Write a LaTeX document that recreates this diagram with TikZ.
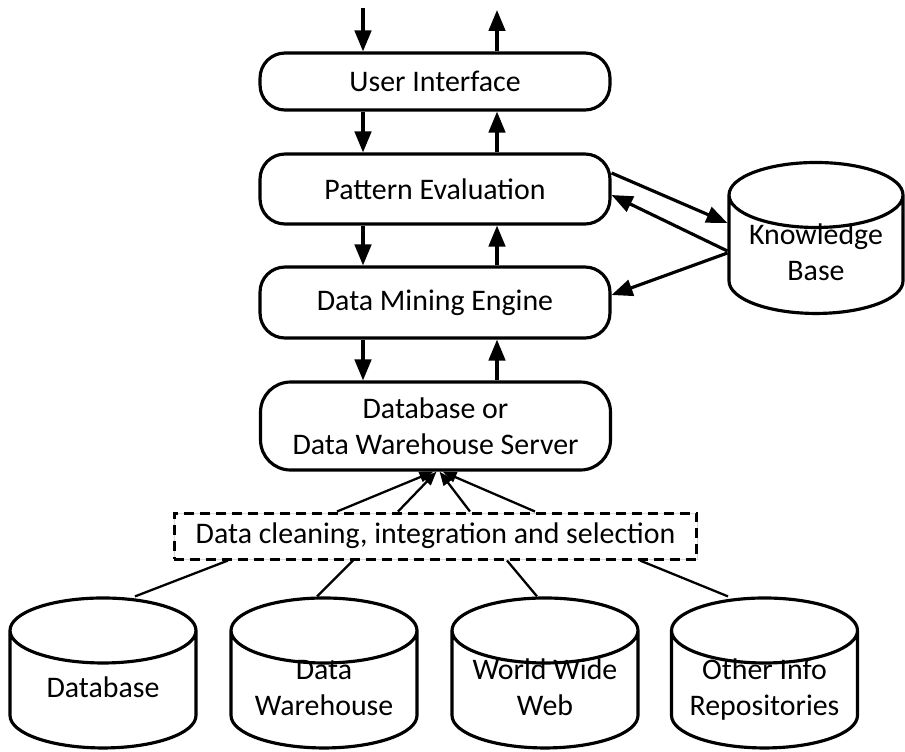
\documentclass[tikz,border=0pt]{standalone}
\usepackage{fontspec}
\setmainfont{Carlito}
\usetikzlibrary{arrows.meta, positioning, shapes.geometric}
\newcommand{\storetext}[1]{\makebox[2.6cm]{\begin{tabular}{@{}c@{}}#1\end{tabular}}}
\tikzset{
  box/.style={draw, line width=1.8pt, rounded corners=0.5cm, minimum width=7cm, inner sep=0pt, align=center},
  store/.style={draw, line width=1.8pt, cylinder, shape border rotate=90, aspect=0.5, minimum width=3.72cm, minimum height=3cm, inner sep=0pt, text height=8.65pt, text depth=-6.65pt},
  flow/.style={line width=1.8pt, -{Triangle[length=4.2mm,width=3.3mm]}},
  feed/.style={line width=1.3pt, -{Triangle[length=2.8mm,width=2.1mm]}},
  link/.style={line width=1.3pt},
}

\begin{document}
\begin{tikzpicture}[x=0.02cm, y=-0.02cm, font=\fontsize{17}{20.5}\selectfont]
\useasboundingbox (0,0) rectangle (905,751);
\node[box, minimum height=1.14cm] (ui)  at (435,81.5) {User Interface};
\node[box, minimum height=1.4cm]  (pe)  at (435,189)  {Pattern Evaluation};
\node[box, minimum height=1.42cm] (dme) at (435,302.5) {Data Mining Engine};
\node[box, minimum height=1.76cm, rounded corners=0.6cm] (srv) at (435.5,426) {Database or\\Data Warehouse Server};
\node[store, minimum width=3.48cm, minimum height=3.02cm] (kb) at (816,255) {\storetext{Knowledge\\Base}};
\node[draw, dashed, line width=1.7pt, dash pattern=on 0.2cm off 0.12cm,
  preaction={draw=gray!30, line width=0.4pt, solid},
  minimum width=10.46cm, minimum height=0.92cm, inner sep=0pt] (clean) at (435.5,536)
  {Data cleaning, integration and selection};
\foreach \n/\x/\t in {db/103/Database, dw/324/{Data\\Warehouse}, www/545/{World Wide\\Web}, oth/764.5/{Other Info\\Repositories}}
  \node[store] (\n) at (\x,690) {\storetext{\t}};

\coordinate (in)  at (363,8);
\coordinate (out) at (497,10);
\draw[flow] (in) -- (in |- ui.north);
\draw[flow] (ui.north -| out) -- (out);
\foreach \a/\b in {ui/pe, pe/dme, dme/srv}
{
  \draw[flow] (\a.south -| in) -- (\b.north -| in);
  \draw[flow] (\b.north -| out) -- (\a.south -| out);
}

\draw[flow] ([yshift=0.32cm]pe.east) -- ([yshift=0.64cm]kb.west);
\draw[flow] ([yshift=0.08cm]kb.west) -- ([yshift=-0.12cm]pe.east);
\draw[flow] ([yshift=0.04cm]kb.west) -- ([yshift=0.15cm]dme.east);

\foreach \a/\b in {-1.97/-0.04, -0.75/0.02, 0.69/0.08, 1.99/0.14}
  \draw[feed] ([xshift=\a cm]clean.north) -- ([xshift=\b cm]srv.south);
\foreach \n/\a/\b in {db/-4.15/0.64, dw/-1.65/-0.14, www/1.43/-0.16, oth/4.09/-0.73}
  \draw[link] ([xshift=\a cm]clean.south) -- ([xshift=\b cm]\n.north);
\end{tikzpicture}
\end{document}
